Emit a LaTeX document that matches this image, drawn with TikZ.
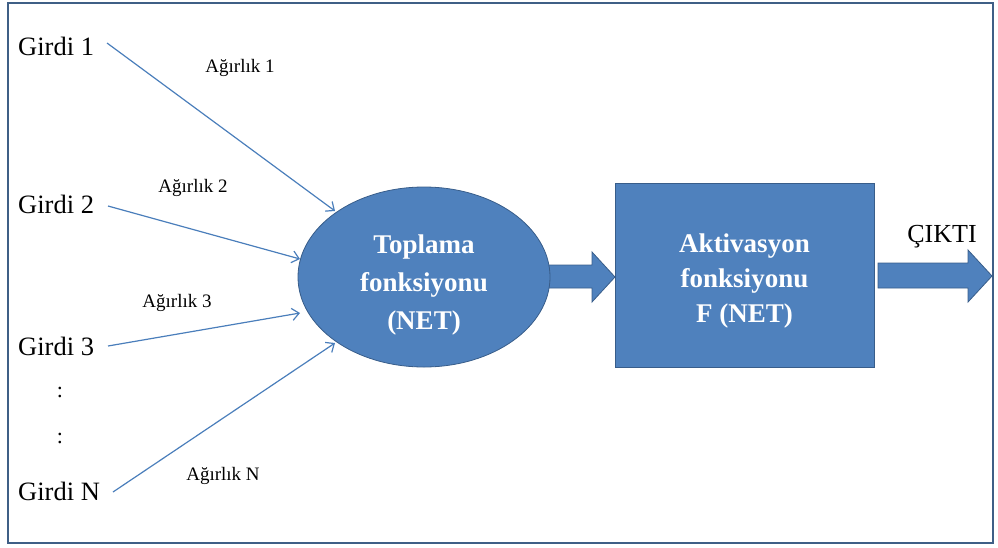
\documentclass[tikz,border=0pt]{standalone}
\usepackage{fontspec}
\setmainfont{Liberation Serif}
\usetikzlibrary{arrows.meta,shapes.geometric}
\definecolor{boxblue}{HTML}{4F81BD}
\definecolor{edgeblue}{HTML}{385D8A}
\definecolor{lineblue}{HTML}{4A7EBB}
\definecolor{framecol}{HTML}{3F5F86}
\tikzset{
  inlabel/.style={anchor=base west,inner sep=0pt,font=\fontsize{26.5}{30}\selectfont},
  wlabel/.style={anchor=base,inner sep=0pt,font=\fontsize{19}{22}\selectfont},
  conn/.style={draw=lineblue,line width=1.2pt,-{Straight Barb[length=7pt,width=12pt,line width=1.2pt]}},
  blockarrow/.style={fill=boxblue,draw=edgeblue,line width=0.8pt},
  wtext/.style={text=white,font=\fontsize{27}{38}\bfseries\selectfont,align=center}
}
\begin{document}
\begin{tikzpicture}[x=1pt,y=-1pt]
\useasboundingbox (0,0) rectangle (998,547);
\draw[framecol,line width=2.5pt] (8,3) rectangle (993,543);
% inputs
\node[inlabel] (g1) at (18,55) {Girdi 1};
\node[inlabel] (g2) at (18,213) {Girdi 2};
\node[inlabel] (g3) at (18,355) {Girdi 3};
\node[inlabel] (gn) at (18,500) {Girdi N};
\node[anchor=base,inner sep=0pt,font=\fontsize{22}{26}\selectfont] (d1) at (60,397) {:};
\node[anchor=base,inner sep=0pt,font=\fontsize{22}{26}\selectfont] (d2) at (60,443) {:};
% weights
\node[wlabel] (w1) at (240,72) {Ağırlık 1};
\node[wlabel] (w2) at (193,192) {Ağırlık 2};
\node[wlabel] (w3) at (177,307) {Ağırlık 3};
\node[wlabel] (wn) at (223,480) {Ağırlık N};
% block arrows
\draw[blockarrow] (540,265) -- (592,265) -- (592,252) -- (615,277) -- (592,302) -- (592,288) -- (540,288) -- cycle;
\draw[blockarrow] (878,263) -- (968,263) -- (968,250) -- (992,276) -- (968,302) -- (968,288) -- (878,288) -- cycle;
% ellipse and box
\node[ellipse,fill=boxblue,draw=edgeblue,line width=0.8pt,minimum width=252pt,minimum height=180pt,inner sep=0pt] (sum) at (424,277) {};
\node[wtext] (sumt) at (424,285) {Toplama\\fonksiyonu\\(NET)};
\node[rectangle,fill=boxblue,draw=edgeblue,line width=0.8pt,minimum width=259pt,minimum height=184pt,inner sep=0pt] (act) at (744.5,275) {};
\node[wtext,font=\fontsize{27}{35}\bfseries\selectfont] (actt) at (744.5,281) {Aktivasyon\\fonksiyonu\\F (NET)};
\node[anchor=base,inner sep=0pt,font=\fontsize{26}{30}\selectfont] (out) at (942,242) {ÇIKTI};
% connector endpoints
\coordinate (s1) at (107,43);
\coordinate (s2) at (108,206);
\coordinate (s3) at (108,346);
\coordinate (sn) at (113,492);
\coordinate (e1) at (335,211);
\coordinate (e2) at (300,259);
\coordinate (e3) at (300,313);
\coordinate (en) at (335,343);
\draw[conn] (s1) -- (e1);
\draw[conn] (s2) -- (e2);
\draw[conn] (s3) -- (e3);
\draw[conn] (sn) -- (en);
\end{tikzpicture}
\end{document}
